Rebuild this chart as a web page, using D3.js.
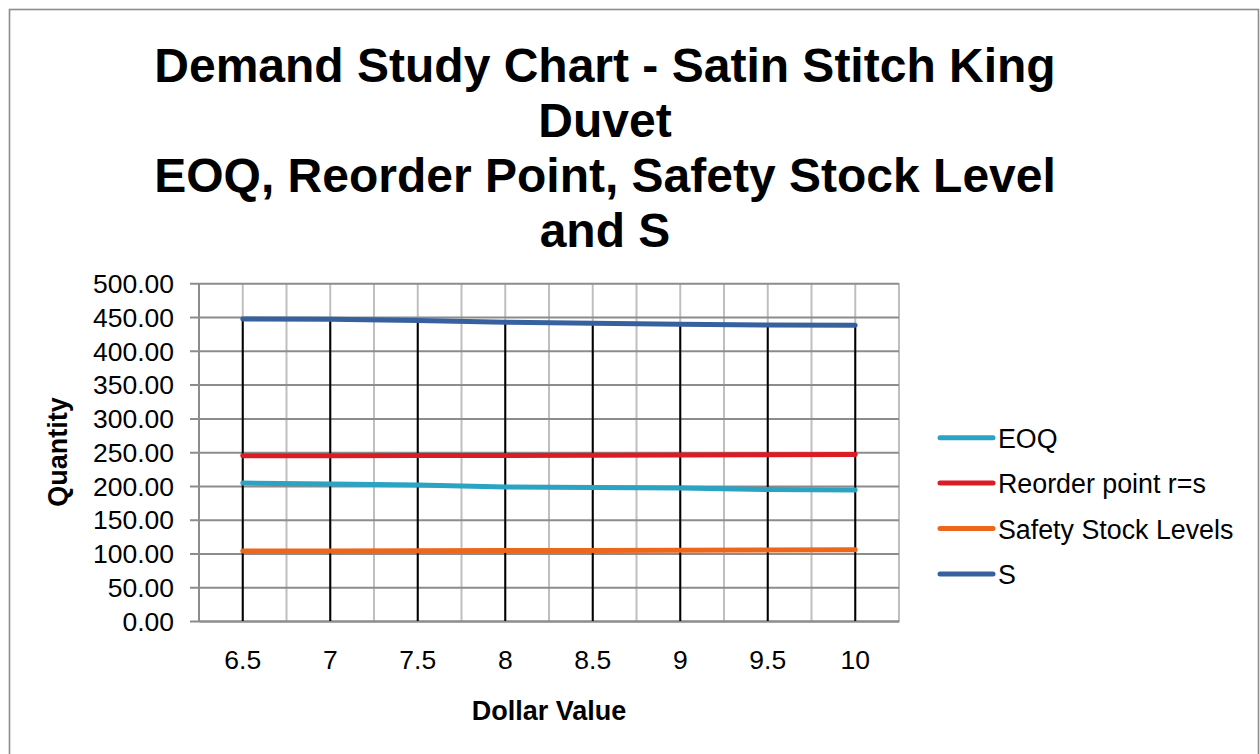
<!DOCTYPE html>
<html>
<head>
<meta charset="utf-8">
<script src="https://cdn.jsdelivr.net/npm/d3@7"></script>
<style>
  html, body { margin: 0; padding: 0; background: #fff; }
  svg { display: block; font-family: "Liberation Sans", Arial, sans-serif; }
</style>
</head>
<body>
<svg id="chart" width="1260" height="754"></svg>
<script>
// Dollar value categories and the four demand-study series
const categories = ["6.5", "7", "7.5", "8", "8.5", "9", "9.5", "10"];
const eoq = [204.3, 202.8, 201.4, 198.4, 197.7, 196.9, 194.7, 193.9];
const reorderPoint = [244.7, 244.8, 245.0, 245.2, 245.5, 245.8, 246.2, 246.6];
const safetyStock = [103.6, 103.8, 104.0, 104.2, 104.5, 104.8, 105.2, 105.5];
const sLevel = [447.3, 446.6, 445.0, 442.5, 441.0, 439.3, 438.3, 437.8];
const yTicks = [0, 50, 100, 150, 200, 250, 300, 350, 400, 450, 500];
const titleLines = [
  "Demand Study Chart - Satin Stitch King",
  "Duvet",
  "EOQ, Reorder Point, Safety Stock Level",
  "and S"
];

const series = [
  { name: "EOQ", values: eoq, color: "#2ba3c3" },
  { name: "Reorder point r=s", values: reorderPoint, color: "#db1c25" },
  { name: "Safety Stock Levels", values: safetyStock, color: "#ec661b" },
  { name: "S", values: sLevel, color: "#37619e" }
];

const svg = d3.select("#chart");

// outer chart frame
svg.append("rect")
  .attr("x", 9.5).attr("y", 9.5)
  .attr("width", 1249).attr("height", 760)
  .attr("fill", "#fff")
  .attr("stroke", "#8c8c8c").attr("stroke-width", 1.6);

const plot = { left: 199, right: 899, top: 283.3, bottom: 621 };

const x = d3.scaleBand().domain(categories).range([plot.left, plot.right]);
const y = d3.scaleLinear().domain([0, 500]).range([plot.bottom, plot.top]);
const cx = c => x(c) + x.bandwidth() / 2;

// vertical gridlines at band edges and band centres
const vLines = [];
categories.forEach(c => { vLines.push(x(c)); vLines.push(cx(c)); });
vLines.push(plot.right);
svg.append("g").selectAll("line").data(vLines).join("line")
  .attr("x1", d => d).attr("x2", d => d)
  .attr("y1", plot.top).attr("y2", plot.bottom)
  .attr("stroke", "#bfbfbf").attr("stroke-width", 2);

// horizontal gridlines + y axis
const yAxis = d3.axisLeft(y).tickValues(yTicks)
  .tickFormat(d3.format(".2f"))
  .tickSize(-(plot.right - plot.left)).tickSizeOuter(0).tickPadding(25);
const gy = svg.append("g").attr("transform", `translate(${plot.left},0)`).call(yAxis);
gy.select(".domain").remove();
gy.selectAll(".tick line")
  .attr("x1", -9)
  .attr("stroke", "#8c8c8c").attr("stroke-width", 2);
gy.selectAll(".tick text")
  .attr("fill", "#000").attr("font-size", 26.5)
  .attr("font-family", "Liberation Sans, Arial, sans-serif")
  .attr("dy", "0.35em");

// axis lines
svg.append("line")
  .attr("x1", plot.left).attr("x2", plot.left)
  .attr("y1", plot.top).attr("y2", plot.bottom)
  .attr("stroke", "#8c8c8c").attr("stroke-width", 2);

// x axis labels
const xAxis = d3.axisBottom(x).tickSize(0).tickPadding(29);
const gx = svg.append("g").attr("transform", `translate(0,${plot.bottom})`).call(xAxis);
gx.select(".domain").attr("stroke", "#8c8c8c").attr("stroke-width", 2);
gx.selectAll(".tick text")
  .attr("fill", "#000").attr("font-size", 26.5)
  .attr("font-family", "Liberation Sans, Arial, sans-serif");

// drop lines from the highest series down to the axis
svg.append("g").selectAll("line").data(categories).join("line")
  .attr("x1", d => cx(d)).attr("x2", d => cx(d))
  .attr("y1", (d, i) => y(sLevel[i])).attr("y2", y(0))
  .attr("stroke", "#000").attr("stroke-width", 2);

// series lines
const line = d3.line().x((d, i) => cx(categories[i])).y(d => y(d));
svg.append("g").selectAll("path").data(series).join("path")
  .attr("d", d => line(d.values))
  .attr("fill", "none")
  .attr("stroke", d => d.color)
  .attr("stroke-width", 5)
  .attr("stroke-linecap", "round")
  .attr("stroke-linejoin", "round");

// title
svg.append("text")
  .attr("x", 605).attr("y", 81.7)
  .attr("text-anchor", "middle")
  .attr("font-size", 48).attr("font-weight", "bold")
  .selectAll("tspan").data(titleLines).join("tspan")
  .attr("x", 605)
  .attr("dy", (d, i) => i === 0 ? 0 : 55)
  .text(d => d);

// axis titles
svg.append("text")
  .attr("transform", "translate(67,452) rotate(-90)")
  .attr("text-anchor", "middle")
  .attr("font-size", 27).attr("font-weight", "bold")
  .text("Quantity");
svg.append("text")
  .attr("x", 549).attr("y", 720)
  .attr("text-anchor", "middle")
  .attr("font-size", 27).attr("font-weight", "bold")
  .text("Dollar Value");

// legend
const legend = svg.append("g").selectAll("g").data(series).join("g")
  .attr("transform", (d, i) => `translate(940,${437.7 + i * 45.4})`);
legend.append("line")
  .attr("x1", 0).attr("x2", 53)
  .attr("stroke", d => d.color).attr("stroke-width", 5)
  .attr("stroke-linecap", "round");
legend.append("text")
  .attr("x", 58).attr("y", 10)
  .attr("font-size", 26.8)
  .text(d => d.name);
</script>
</body>
</html>
